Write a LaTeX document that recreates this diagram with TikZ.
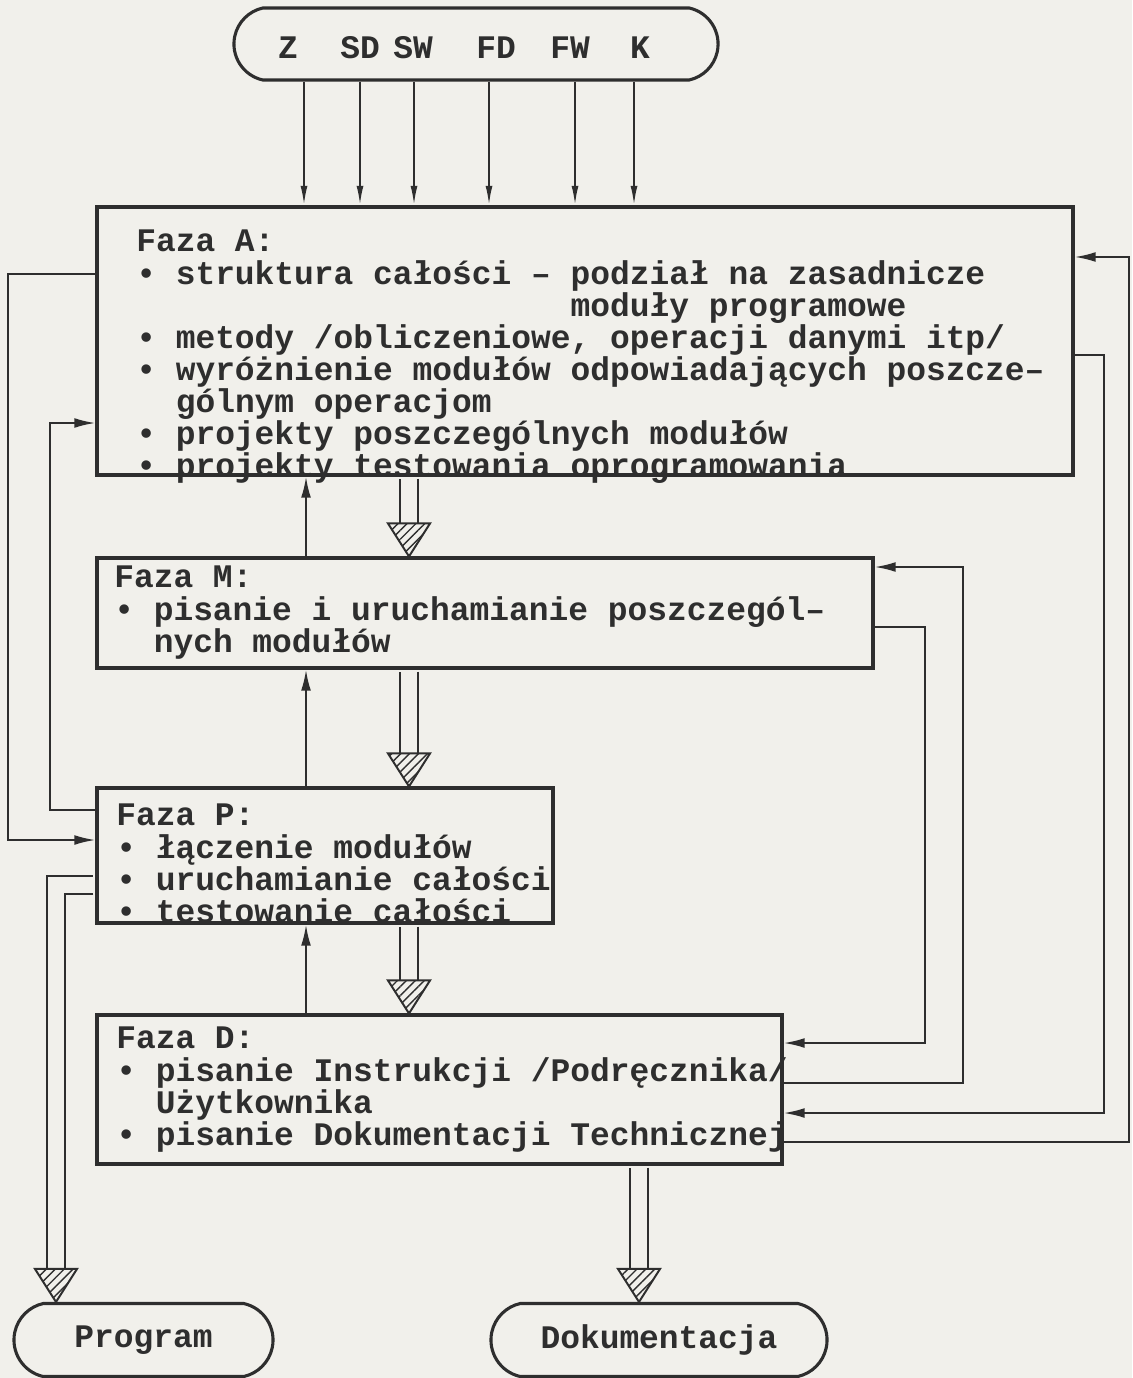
\documentclass[tikz,border=0pt]{standalone}
\usepackage{fontspec}
\setmainfont{Liberation Mono}
\usetikzlibrary{positioning,calc,fit,shapes.misc,arrows.meta,patterns.meta}

\definecolor{ink}{HTML}{2E2E2E}
\definecolor{paper}{HTML}{F1F0EB}

\tikzset{
  phase/.style={draw=ink, line width=2.2pt, inner sep=0pt},
  term/.style={draw=ink, line width=2.2pt, rounded rectangle, rounded rectangle arc length=155,
    inner sep=0pt, font=\fontsize{23.4}{22.8}\selectfont\bfseries, text=ink},
  txt/.style={font=\fontsize{23.4}{22.8}\selectfont\bfseries, text=ink, align=left,
    inner sep=0pt, anchor=north west},
  lbl/.style={font=\fontsize{23.4}{22.8}\selectfont\bfseries, text=ink, inner sep=0pt},
  arr/.style={draw=ink, line width=1.5pt, -{Latex[length=15pt,width=7pt]}},
  inarr/.style={draw=ink, line width=1.5pt, -{Latex[length=14pt,width=5pt]}},
  link/.style={draw=ink, line width=1.5pt},
  dbl/.style={draw=ink, line width=1.4pt, double=paper, double distance=0.4cm},
  hatchhead/.pic={
    \draw[ink, line width=1.4pt, fill=paper,
      postaction={pattern={Lines[angle=45,distance=4.5pt,line width=1pt]}, pattern color=ink}]
      (-21,-33) -- (21,-33) -- (0,0) -- cycle;
  }
}

\begin{document}
\begin{tikzpicture}[x=0.025cm, y=-0.025cm]
\path[use as bounding box, fill=paper] (0,0) rectangle (1132,1378);

% Input terminal
\node[term, minimum width=12.1cm, minimum height=1.8cm] (T) at (476,44) {};

% Phase boxes
\node[phase, fit={(97,207) (1073,475)}] (A) {};
\node[phase, fit={(97,558) (873,668)}] (M) {};
\node[phase, fit={(97,788) (553,923)}] (P) {};
\node[phase, fit={(97,1015) (782,1164)}] (D) {};

% Output terminals
\node[term, minimum width=6.475cm, minimum height=1.825cm] (Prog) at (143.5,1340) {Program};
\node[term, minimum width=8.4cm, minimum height=1.825cm] (Dok) at (659,1340) {Dokumentacja};

% Texts
\node[txt] (tA) at (136,230) {Faza A:\\
• struktura całości – podział na zasadnicze\\
\hphantom{• struktura całości – }moduły programowe\\
• metody /obliczeniowe, operacji danymi itp/\\
• wyróżnienie modułów odpowiadających poszcze–\\
\hphantom{• }gólnym operacjom\\
• projekty poszczególnych modułów\\
• projekty testowania oprogramowania};

\node[txt] (tM) at (114,566) {Faza M:\\
• pisanie i uruchamianie poszczegól–\\
\hphantom{• }nych modułów};

\node[txt] (tP) at (116,804) {Faza P:\\
• łączenie modułów\\
• uruchamianie całości\\
• testowanie całości};

\node[txt] (tD) at (116,1027) {Faza D:\\
• pisanie Instrukcji /Podręcznika/\\
\hphantom{• }Użytkownika\\
• pisanie Dokumentacji Technicznej};

% Inputs into phase A
\foreach \nm/\lx/\ax in {Z/288/304, SD/360/360, SW/413/414, FD/496/489, FW/570/575, K/640/634} {
  \node[lbl] (l\nm) at (\lx,48) {\nm};
  \draw[inarr] (\ax,0 |- T.south) -- (\ax,0 |- A.north);
}

% Columns of the central connectors
\coordinate (cu) at (306,0);
\coordinate (cd) at (409,0);

% Returns upwards
\draw[arr] (M.north -| cu) -- (A.south -| cu);
\draw[arr] (P.north -| cu) -- (M.south -| cu);
\draw[arr] (D.north -| cu) -- (P.south -| cu);

% Main flow downwards
\draw[dbl] ($(A.south -| cd)+(0,2)$) -- ($(M.north -| cd)+(0,-33)$);
\pic at (M.north -| cd) {hatchhead};
\draw[dbl] ($(M.south -| cd)+(0,2)$) -- ($(P.north -| cd)+(0,-33)$);
\pic at (P.north -| cd) {hatchhead};
\draw[dbl] ($(P.south -| cd)+(0,2)$) -- ($(D.north -| cd)+(0,-33)$);
\pic at (D.north -| cd) {hatchhead};
\draw[dbl] ($(D.south -| 639,0)+(0,2)$) -- ($(Dok.north -| 639,0)+(0,-33)$);
\pic at (Dok.north -| 639,0) {hatchhead};
\draw[dbl] ($(P.west |- 0,885)+(-2,0)$) -| ($(Prog.north -| 56,0)+(0,-33)$);
\pic at (Prog.north -| 56,0) {hatchhead};

% Loops on the left
\draw[arr] (A.west |- 0,274) -| (8,840) -- (P.west |- 0,840);
\draw[arr] (P.west |- 0,810) -| (50,423) -- (A.west |- 0,423);

% Loops on the right
\draw[arr] (A.east |- 0,355) -| (1104,1113) -- (D.east |- 0,1113);
\draw[arr] (D.east |- 0,1142) -| (1129,257) -- (A.east |- 0,257);
\draw[arr] (M.east |- 0,627) -| (925,1043) -- (D.east |- 0,1043);
\draw[arr] (D.east |- 0,1083) -| (963,567) -- (M.east |- 0,567);

\end{tikzpicture}
\end{document}
